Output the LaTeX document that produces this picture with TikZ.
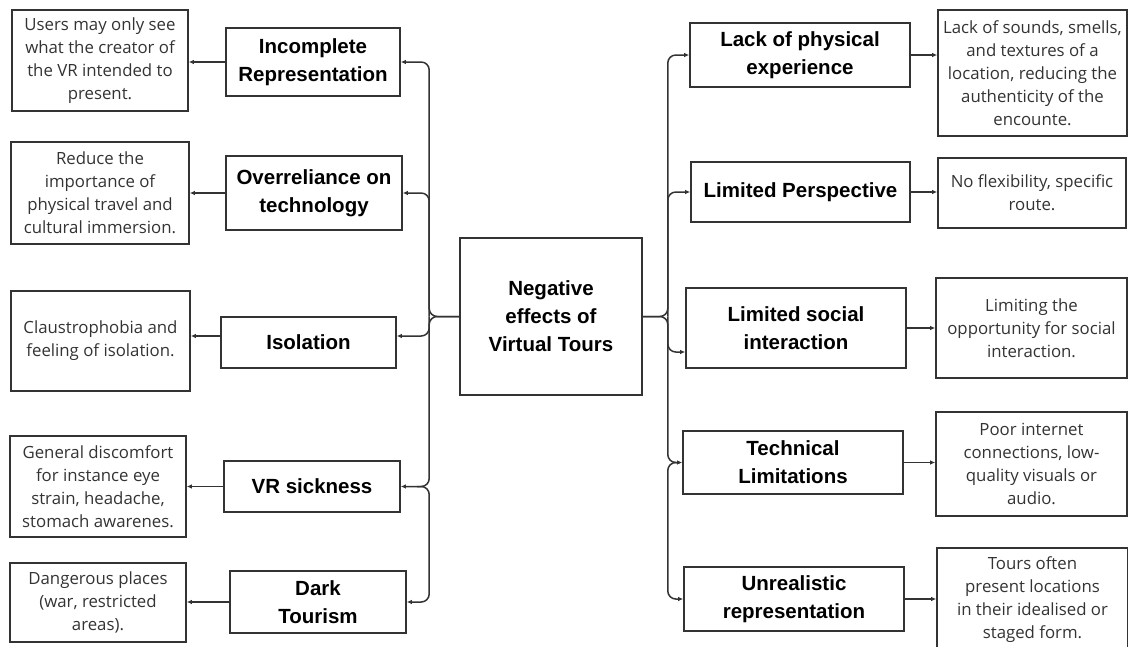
\documentclass[tikz,border=0pt]{standalone}
\usepackage{fontspec}
\setmainfont{Liberation Sans}
\newfontfamily\detailfont{Open Sans}
\usetikzlibrary{arrows.meta}
\definecolor{ln}{HTML}{333333}
\tikzset{
  link/.style={draw=ln, line width=1.5pt, rounded corners=8pt, -{Latex[length=5pt,width=4.5pt]}}
}

\begin{document}
\begin{tikzpicture}[x=1pt,y=-1pt]

      \useasboundingbox (0,0) rectangle (1128,646);

      \begin{scope}[every node/.style={draw=ln, line width=1.6pt, align=center, inner sep=0pt,
          font=\bfseries\fontsize{20.5}{28}\selectfont}]
        \node[minimum width=182, minimum height=157] (0)  at (551,316.5) {Negative\\effects of\\Virtual Tours};
        \node[minimum width=174, minimum height=68]  (1)  at (313,62)    {Incomplete\\Representation};
        \node[minimum width=176, minimum height=74]  (2)  at (314,193)   {Overreliance on\\technology};
        \node[minimum width=175, minimum height=51]  (3)  at (308.5,342.5) {Isolation};
        \node[minimum width=176, minimum height=51]  (4)  at (312,486.5) {VR sickness};
        \node[minimum width=176, minimum height=62]  (5)  at (318,602)   {Dark\\Tourism};
        \node[minimum width=220, minimum height=64]  (6)  at (800,55)    {Lack of physical\\experience};
        \node[minimum width=219, minimum height=60]  (7)  at (800.5,192) {Limited Perspective};
        \node[minimum width=220, minimum height=80]  (8)  at (796,328)   {Limited social\\interaction};
        \node[minimum width=220, minimum height=63]  (9)  at (793,462.5) {Technical\\Limitations};
        \node[minimum width=220, minimum height=64]  (10) at (794,599)   {Unrealistic\\representation};
      \end{scope}

      \begin{scope}[every node/.style={draw=ln, line width=1.6pt, align=center, inner sep=0pt, text=ln,
          font=\detailfont\fontsize{16.8}{23}\selectfont}]
        \node[minimum width=176, minimum height=101] (11) at (100,60.5)  {Users may only see\\what the creator of\\the VR intended to\\present.};
        \node[minimum width=178, minimum height=102] (12) at (100,193)   {Reduce the\\importance of\\physical travel and\\cultural immersion.};
        \node[minimum width=179, minimum height=100] (13) at (100.5,341) {Claustrophobia and\\feeling of isolation.};
        \node[minimum width=176, minimum height=101] (14) at (98,486.5)  {General discomfort\\for instance eye\\strain, headache,\\stomach awarenes.};
        \node[minimum width=176, minimum height=79]  (15) at (98,602.5)  {Dangerous places\\(war, restricted\\areas).};
        \node[minimum width=189, minimum height=126] (16) at (1032.5,73) {Lack of sounds, smells,\\and textures of a\\location, reducing the\\authenticity of the\\encounte.};
        \node[minimum width=188, minimum height=70]  (17) at (1032,193)  {No flexibility, specific\\route.};
        \node[minimum width=191, minimum height=100] (18) at (1031.5,328) {Limiting the\\opportunity for social\\interaction.};
        \node[minimum width=191, minimum height=104] (19) at (1031.5,464) {Poor internet\\connections, low-\\quality visuals or\\audio.};
        \node[minimum width=191, minimum height=104] (20) at (1032.5,600) {Tours often\\present locations\\in their idealised or\\staged form.};
      \end{scope}

      \coordinate (lt) at ([xshift=-30pt]0.west);
      \coordinate (rt) at ([xshift=25pt]0.east);
      \coordinate (lj) at (lt |- 4.east);
      \coordinate (rj) at (rt |- 9.west);

      \draw[link] (0.west) -- (lt) |- (1.east);
      \draw[link] (lt) |- (2.east);
      \draw[link] (lt) |- ([yshift=6.5pt]3.east);
      \draw[link] (0.west) -- (lt) |- (4.east);
      \draw[link] ([xshift=-12pt]lj) -- (lj) |- (5.east);

      \draw[link] (0.east) -- (rt) |- (6.west);
      \draw[link] (rt) |- (7.west);
      \draw[link] (rt) |- ([yshift=-24pt]8.west);
      \draw[link] (0.east) -- (rt) |- (9.west);
      \draw[link] ([xshift=12pt]rj) -- (rj) |- (10.west);

      \begin{scope}[every edge/.style={link}]
        \path (1.west) edge (1.west -| 11.east);
        \path (2.west) edge (2.west -| 12.east);
        \path ([yshift=6.5pt]3.west) edge ([yshift=6.5pt]3.west -| 13.east);
        \path (4.west) edge (4.west -| 14.east);
        \path (5.west) edge (5.west -| 15.east);
        \path (6.east) edge (6.east -| 16.west);
        \path (7.east) edge (7.east -| 17.west);
        \path (8.east) edge (8.east -| 18.west);
        \path (9.east) edge (9.east -| 19.west);
        \path (10.east) edge (10.east -| 20.west);
      \end{scope}

    \end{tikzpicture}
\end{document}
